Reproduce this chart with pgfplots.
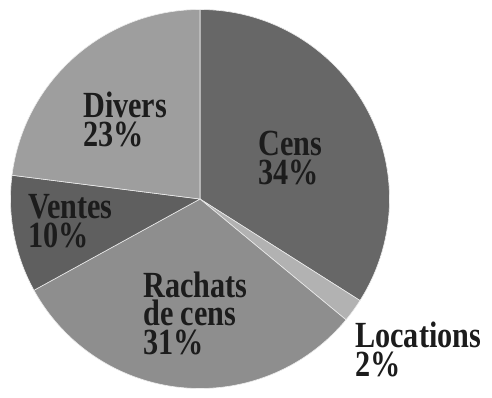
\documentclass[border=0pt]{standalone}
\usepackage{pgfplots}
\pgfplotsset{compat=1.18}
\usepackage{fontspec}
\setmainfont{Liberation Serif}[FakeStretch=0.82]
\definecolor{cCens}{HTML}{676767}
\definecolor{cLoc}{HTML}{B2B2B2}
\definecolor{cRach}{HTML}{8E8E8E}
\definecolor{cVent}{HTML}{5F5F5F}
\definecolor{cDiv}{HTML}{9E9E9E}
\definecolor{txt}{HTML}{1C1C1C}
% slice: colour, cumulative start (%), value (%)
\newcommand\slice[3]{%
  \fill[#1, draw=white!85!gray, line width=0.6bp] (axis cs:200,188) -- ++({90-3.6*(#2)}:189.5bp)
    arc[start angle={90-3.6*(#2)}, delta angle={-3.6*(#3)}, radius=189.5bp] -- cycle;}
\newcommand\lab[3]{\node[anchor=base west, inner sep=0pt, text=txt,
   font=\fontsize{37}{29}\selectfont\bfseries] at (axis cs:#1,#2) {#3};}
\begin{document}
\begin{tikzpicture}
\begin{axis}[
  scale only axis, width=492bp, height=387bp,
  xmin=0, xmax=492, ymin=0, ymax=387,
  hide axis, clip=false]
\path (axis cs:0,0) rectangle (axis cs:492,387);
% values: Cens 34, Locations 2, Rachats de cens 31, Ventes 10, Divers 23
\slice{cCens}{0}{34}
\slice{cLoc}{34}{2}
\slice{cRach}{34+2}{31}
\slice{cVent}{34+2+31}{10}
\slice{cDiv}{34+2+31+10}{23}
% labels (image y converted: 387 - y)
\lab{258}{232}{Cens}
\lab{258}{203}{34\%}
\lab{355}{40}{Locations}
\lab{355}{11}{2\%}
\lab{143}{90}{Rachats}
\lab{143}{62}{de cens}
\lab{143}{33}{31\%}
\lab{28}{169}{Ventes}
\lab{28}{140}{10\%}
\lab{83}{270}{Divers}
\lab{83}{241}{23\%}
\end{axis}
\end{tikzpicture}
\end{document}
